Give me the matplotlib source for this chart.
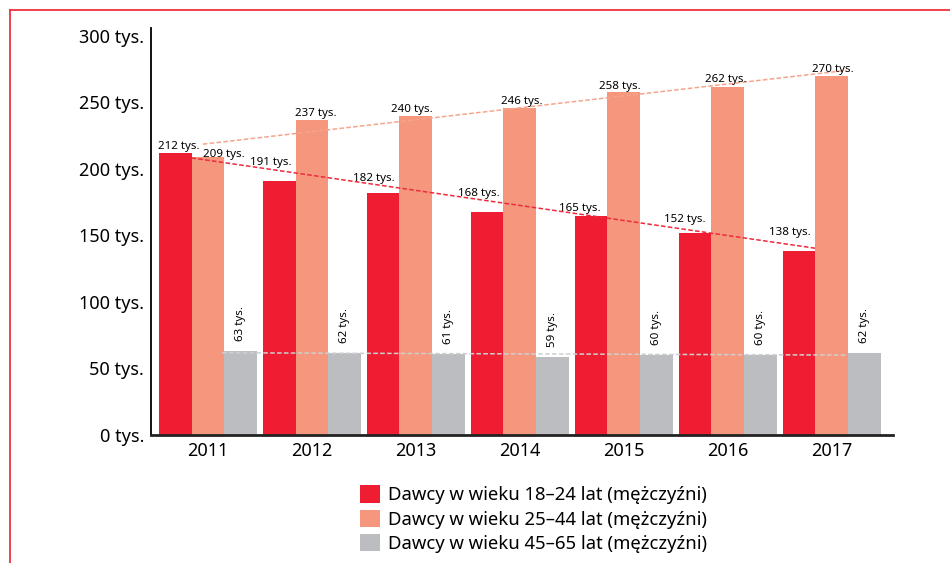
import matplotlib.pyplot as plt
import numpy as np
from matplotlib.lines import Line2D

plt.rcParams['font.family'] = ['Noto Sans', 'DejaVu Sans']

# data
years = ['2011', '2012', '2013', '2014', '2015', '2016', '2017']
young = [212, 191, 182, 168, 165, 152, 138]      # 18-24
middle = [209, 237, 240, 246, 258, 262, 270]     # 25-44
older = [63, 62, 61, 59, 60, 60, 62]             # 45-65
series_names = ['Dawcy w wieku 18–24 lat (mężczyźni)',
                'Dawcy w wieku 25–44 lat (mężczyźni)',
                'Dawcy w wieku 45–65 lat (mężczyźni)']

c_red = '#EE1D31'
c_salmon = '#F5977D'
c_gray = '#BCBDC0'

fig = plt.figure(figsize=(9.5, 5.63), dpi=100)
ax = fig.add_axes([151/950, 1 - 435/563, (893-151)/950, (435-28)/563])

x = np.arange(len(years))
w = 0.317
b1 = ax.bar(x - w, young, w, color=c_red, label=series_names[0])
b2 = ax.bar(x, middle, w, color=c_salmon, label=series_names[1])
b3 = ax.bar(x + w, older, w, color=c_gray, label=series_names[2])

# linear trend lines (dashed)
def trend(vals, x0, x1, color):
    k, b = np.polyfit(x, vals, 1)
    xs = np.array([x0, x1])
    ax.plot(xs, k * xs + b, ls=(0, (3, 1.5)), lw=1.1, color=color, zorder=3)

trend(young, -w/2, 6 - w/2, '#EE2A3C')
trend(middle, -0.05, 6.14, '#F7A48C')
trend(older, 0.135, 6.14, '#CFCFD1')

# value labels, small pixel nudges so they clear the trend lines
young_dx = [4, -8, -9, -8, -11, -10, -9]
young_dy = [-2, 10, 6, 10, -1, 5, 10]
middle_dx = [16, 4, -4, 2, -4, -2, 1]
middle_dy = [-6, -2, -2, -2, -3, -1, -2]
for i in range(len(years)):
    ax.annotate(f'{young[i]} tys.', (x[i] - w, young[i]), xytext=(young_dx[i], 3 + young_dy[i]),
                textcoords='offset pixels', ha='center', va='bottom', fontsize=8.3)
    ax.annotate(f'{middle[i]} tys.', (x[i], middle[i]), xytext=(middle_dx[i], 3 + middle_dy[i]),
                textcoords='offset pixels', ha='center', va='bottom', fontsize=8.3)
    ax.annotate(f'{older[i]} tys.', (x[i] + w, older[i]), xytext=(0, 10),
                textcoords='offset pixels', ha='center', va='bottom', fontsize=8.3, rotation=90)

ax.set_xlim(-0.548, 6.587)
ax.set_ylim(0, 306)
ax.set_yticks(range(0, 301, 50))
ax.set_yticklabels([f'{v} tys.' for v in range(0, 301, 50)], fontsize=13)
ax.set_xticks(x)
ax.set_xticklabels(years, fontsize=13)
ax.tick_params(length=0, pad=5)
ax.tick_params(axis='x', pad=5)
for s in ['top', 'right']:
    ax.spines[s].set_visible(False)
ax.spines['left'].set_linewidth(1.3)
ax.spines['bottom'].set_linewidth(2)
ax.spines['bottom'].set_color('#222222')

fig.legend(handles=[b1, b2, b3], loc='upper left', bbox_to_anchor=(353/950, 1 - 478/563),
           frameon=False, fontsize=13.3, handlelength=1.05, handleheight=1.05,
           handletextpad=0.45, labelspacing=0.3, borderaxespad=0)

# red frame
fig.add_artist(Line2D([10/950, 1], [1 - 10/563, 1 - 10/563], color='#F0303F', lw=1.3))
fig.add_artist(Line2D([10/950, 10/950], [0, 1 - 10/563], color='#F0303F', lw=1.3))

fig.savefig('out.png', dpi=100)
